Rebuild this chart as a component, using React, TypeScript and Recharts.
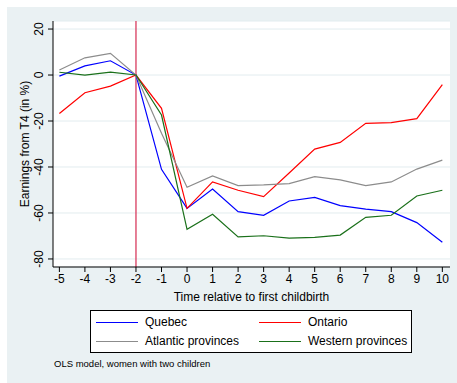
import { LineChart, Line, XAxis, YAxis, CartesianGrid, ReferenceLine } from 'recharts';

// Years relative to first childbirth
const periods = [-5, -4, -3, -2, -1, 0, 1, 2, 3, 4, 5, 6, 7, 8, 9, 10];

// Earnings from T4, in % relative to t = -2
const quebec = [-0.5, 4, 6.2, 0, -41, -58, -49.6, -59.4, -61, -54.8, -53.2, -56.8, -58.3, -59.4, -64.2, -72.7];
const ontario = [-16.7, -7.7, -4.8, 0, -14.5, -58, -46.5, -50.1, -52.9, -42.6, -32.2, -29.3, -21, -20.7, -19, -4.2];
const atlantic = [2.2, 7.5, 9.4, 0, -25.3, -48.8, -43.9, -48.1, -47.8, -47.2, -44.2, -45.6, -48.1, -46.5, -40.9, -37];
const western = [1.2, 0, 1.3, 0, -17.4, -67.1, -60.6, -70.4, -69.9, -70.9, -70.6, -69.6, -61.9, -61, -52.6, -50.1];

const yTicks = [-80, -60, -40, -20, 0, 20];

const series = [
  { key: 'quebec', name: 'Quebec', color: '#0000ff' },
  { key: 'ontario', name: 'Ontario', color: '#ff0000' },
  { key: 'atlantic', name: 'Atlantic provinces', color: '#8c8c8c' },
  { key: 'western', name: 'Western provinces', color: '#1a701a' },
];

const data = periods.map((t, i) => ({
  t,
  quebec: quebec[i],
  ontario: ontario[i],
  atlantic: atlantic[i],
  western: western[i],
}));

const font = '"Liberation Sans", Arial, sans-serif';

const YTick = (props: any) => {
  const { x, y, payload } = props;
  return (
    <text
      x={x - 3}
      y={y}
      transform={`rotate(-90, ${x - 3}, ${y})`}
      textAnchor="middle"
      fontSize={12}
      fontFamily={font}
      fill="#000"
    >
      {payload.value}
    </text>
  );
};

function LegendItem({ name, color }: { name: string; color: string }) {
  return (
    <div style={{ display: 'flex', alignItems: 'center', height: 19 }}>
      <div style={{ width: 42, height: 0, borderTop: `1.3px solid ${color}`, marginRight: 7 }} />
      <span>{name}</span>
    </div>
  );
}

export default function App() {
  return (
    <div style={{ position: 'fixed', left: 0, top: 0, width: 457, height: 383, background: '#fff', fontFamily: font }}>
      <div style={{ position: 'absolute', left: 7, top: 7, width: 450, height: 376, background: '#eaf1f3' }}>
        <LineChart width={450} height={376} data={data} margin={{ top: 14, right: 7, left: 0, bottom: 86 }}>
          <CartesianGrid horizontal vertical={false} stroke="#e2ecef" fill="#ffffff" />
          <XAxis
            dataKey="t"
            type="number"
            domain={[-5.25, 10.3]}
            ticks={periods}
            allowDataOverflow
            stroke="#000"
            tick={{ fill: '#000', fontSize: 12, fontFamily: font }}
            tickSize={5}
            height={30}
            label={{ value: 'Time relative to first childbirth', position: 'insideBottom', offset: -4, fontSize: 12, fill: '#000', fontFamily: font }}
          />
          <YAxis
            type="number"
            domain={[-83.5, 23.5]}
            ticks={yTicks}
            allowDataOverflow
            width={46}
            stroke="#000"
            tick={<YTick />}
            tickSize={5}
            label={{ value: 'Earnings from T4 (in %)', angle: -90, position: 'insideLeft', offset: 18, fontSize: 12, fill: '#000', fontFamily: font, style: { textAnchor: 'middle' } }}
          />
          <ReferenceLine x={-2} stroke="#d83a5e" strokeWidth={1.3} />
          {series.map((s) => (
            <Line
              key={s.key}
              dataKey={s.key}
              name={s.name}
              stroke={s.color}
              strokeWidth={1.2}
              dot={false}
              type="linear"
              isAnimationActive={false}
            />
          ))}
        </LineChart>
        <div
          style={{
            position: 'absolute',
            left: 83,
            top: 303,
            width: 322,
            height: 43,
            border: '1px solid #000',
            background: '#fff',
            boxSizing: 'border-box',
            display: 'grid',
            gridTemplateColumns: '163px 155px',
            alignContent: 'center',
            paddingLeft: 5,
            fontSize: 12,
            color: '#000',
          }}
        >
          <LegendItem name={series[0].name} color={series[0].color} />
          <LegendItem name={series[1].name} color={series[1].color} />
          <LegendItem name={series[2].name} color={series[2].color} />
          <LegendItem name={series[3].name} color={series[3].color} />
        </div>
        <div style={{ position: 'absolute', left: 47, top: 351, fontSize: 9.5, color: '#000' }}>
          OLS model, women with two children
        </div>
      </div>
    </div>
  );
}
